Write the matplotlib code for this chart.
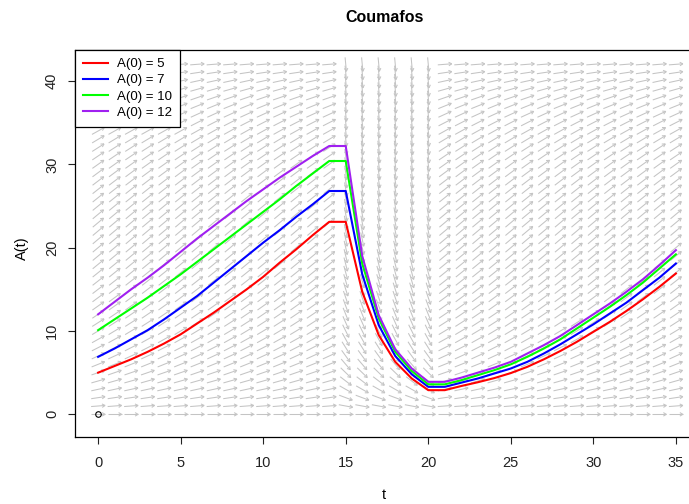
import numpy as np
import matplotlib
matplotlib.use("Agg")
import matplotlib.pyplot as plt
from matplotlib.collections import LineCollection

plt.rcParams['font.family'] = ['Liberation Sans', 'DejaVu Sans']

# time points and solutions
t = list(range(0, 36))
a5 = [5.0, 5.8, 6.6, 7.5, 8.5, 9.6, 10.9, 12.2, 13.6, 15.0, 16.5, 18.2, 19.8, 21.5, 23.1,
      23.1, 14.7, 9.5, 6.3, 4.3, 2.9,
      2.9, 3.4, 3.85, 4.35, 4.95, 5.7, 6.6, 7.6, 8.7, 9.9, 11.1, 12.4, 13.8, 15.3, 16.9]
a7 = [6.9, 7.9, 9.0, 10.1, 11.4, 12.8, 14.2, 15.8, 17.4, 19.0, 20.6, 22.1, 23.7, 25.2, 26.8,
      26.8, 16.8, 10.7, 7.0, 4.8, 3.3,
      3.3, 3.8, 4.3, 4.9, 5.5, 6.3, 7.3, 8.4, 9.6, 10.8, 12.1, 13.4, 14.9, 16.4, 18.1]
a10 = [10.1, 11.4, 12.7, 14.0, 15.4, 16.8, 18.3, 19.8, 21.3, 22.8, 24.3, 25.8, 27.4, 28.9, 30.4,
       30.4, 18.1, 11.5, 7.5, 5.2, 3.6,
       3.6, 4.1, 4.7, 5.3, 6.0, 6.9, 7.9, 9.0, 10.3, 11.6, 12.9, 14.3, 15.8, 17.5, 19.2]
a12 = [12.0, 13.5, 15.0, 16.4, 17.9, 19.5, 21.1, 22.6, 24.1, 25.6, 27.0, 28.4, 29.7, 31.0, 32.2,
       32.2, 19.0, 11.9, 7.8, 5.5, 3.9,
       3.9, 4.4, 5.0, 5.6, 6.3, 7.3, 8.3, 9.4, 10.7, 12.0, 13.3, 14.7, 16.2, 17.9, 19.7]

series = [a5, a7, a10, a12]
labels = ["A(0) = 5", "A(0) = 7", "A(0) = 10", "A(0) = 12"]
colors = ["#FF0000", "#0000FF", "#00FF00", "#A020F0"]

# direction field model
r, K, m = 0.155, 43.0, 0.52
t0_treat, t1_treat = 15, 20
field_t = np.arange(0, 36)
field_a = np.arange(0, 43)


def slope(tt, aa):
    s = r * aa * (1 - aa / K)
    if t0_treat <= tt <= t1_treat:
        s = s - m * aa
    return s


W, H = 689, 504
fig = plt.figure(figsize=(W / 100, H / 100), dpi=100)
ax = fig.add_axes([75 / W, (H - 437) / H, 624 / W, 387 / H])
xlim = (-1.4, 36.4)
ylim = (-2.72, 43.72)
ax.set_xlim(*xlim)
ax.set_ylim(*ylim)

# pixels per data unit
sx = 624 / (xlim[1] - xlim[0])
sy = 387 / (ylim[1] - ylim[0])

L = 14.0
hl = 3.5
segs = []
for tt in field_t:
    for aa in field_a:
        s = slope(tt, aa)
        ux, uy = sx, s * sy
        n = np.hypot(ux, uy)
        ux, uy = ux / n, uy / n
        x0, y0 = tt - L / 2 * ux / sx, aa - L / 2 * uy / sy
        x1, y1 = tt + L / 2 * ux / sx, aa + L / 2 * uy / sy
        segs.append([(x0, y0), (x1, y1)])
        for ang in (np.pi / 6, -np.pi / 6):
            c, sn = np.cos(ang), np.sin(ang)
            bx = -(ux * c - uy * sn)
            by = -(ux * sn + uy * c)
            segs.append([(x1, y1), (x1 + hl * bx / sx, y1 + hl * by / sy)])

ax.add_collection(LineCollection(segs, colors="#C4C4C4", linewidths=0.75, zorder=1))

for ys, lab, col in zip(series, labels, colors):
    ax.plot(t, ys, color=col, lw=1.5, label=lab, zorder=3)

ax.plot([0], [0], 'o', mfc='none', mec='black', ms=4, mew=0.8, zorder=4)

ax.set_xticks(range(0, 36, 5))
ax.set_yticks(range(0, 41, 10))
ax.tick_params(direction='out', length=5, width=0.8, labelsize=10.5, colors='#222222')
ax.tick_params(axis='x', pad=8.5)
ax.tick_params(axis='y', pad=6.5)
for lab in ax.get_yticklabels():
    lab.set_rotation(90)
    lab.set_va('center')
for sp in ax.spines.values():
    sp.set_linewidth(0.9)

fig.text(385 / W, 1 - 18 / H, "Coumafos", ha='center', va='center',
         fontsize=11.5, fontweight='bold')
fig.text(384 / W, 1 - 495 / H, "t", ha='center', va='center', fontsize=10.5)
fig.text(22 / W, 1 - 248 / H, "A(t)", ha='center', va='center', fontsize=10.5, rotation=90)

leg = ax.legend(loc='upper left', borderaxespad=0, fontsize=9.5, fancybox=False,
                edgecolor='black', framealpha=1, handlelength=1.9,
                labelspacing=0.3, borderpad=0.6, handletextpad=0.7)
leg.get_frame().set_linewidth(0.9)
leg.set_zorder(5)

fig.savefig("out.png", dpi=100)
